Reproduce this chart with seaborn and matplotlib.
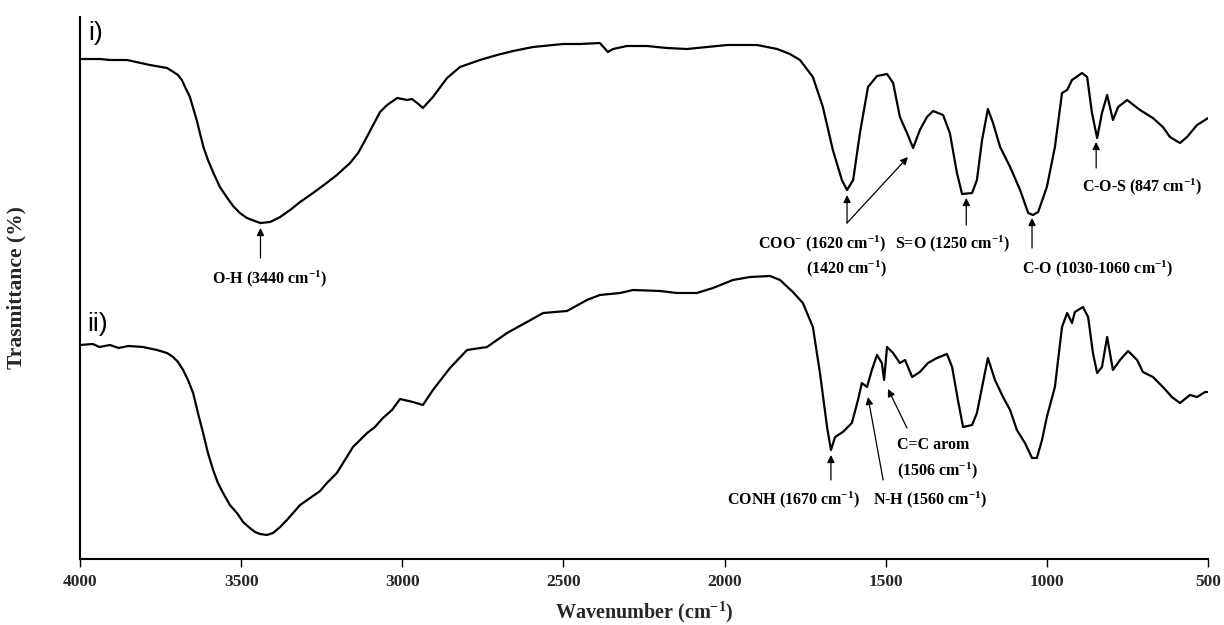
import matplotlib
matplotlib.use("Agg")
import matplotlib.pyplot as plt
import pandas as pd
import seaborn as sns

# Spectrum i): wavenumber (cm-1) and transmittance (a.u., stacked offset)
wn_i = [4000, 3938, 3907, 3854, 3783, 3730, 3710, 3696, 3684, 3674, 3659, 3649,
        3638, 3628, 3617, 3603, 3586, 3566, 3545, 3525, 3504, 3482, 3441, 3410,
        3379, 3348, 3317, 3277, 3235, 3203, 3162, 3137, 3110, 3069, 3047, 3016,
        2985, 2970, 2954, 2936, 2905, 2861, 2821, 2759, 2706, 2656, 2594, 2501,
        2449, 2387, 2362, 2346, 2303, 2241, 2179, 2117, 2054, 1992, 1899, 1837,
        1797, 1766, 1726, 1695, 1664, 1636, 1620, 1601, 1580, 1555, 1527, 1496,
        1477, 1456, 1434, 1415, 1394, 1372, 1353, 1322, 1301, 1279, 1263, 1232,
        1217, 1201, 1183, 1167, 1145, 1114, 1083, 1058, 1043, 1027, 1000, 975,
        953, 937, 922, 891, 875, 860, 844, 829, 813, 795, 779, 751, 711, 671,
        640, 618, 587, 565, 534, 509, 500]
tr_i = [500, 500, 499, 499, 494, 491, 487, 484, 479, 472, 462, 451,
        439, 426, 412, 399, 386, 372, 362, 353, 346, 341, 336, 337,
        342, 349, 357, 366, 376, 384, 396, 406, 422, 447, 454, 461,
        459, 460, 456, 451, 462, 481, 492, 499, 504, 508, 512, 515,
        515, 516, 507, 510, 513, 513, 511, 510, 512, 514, 514, 510,
        505, 499, 482, 452, 409, 379, 369, 379, 426, 472, 483, 485,
        476, 442, 426, 411, 429, 442, 448, 444, 426, 386, 365, 366,
        379, 419, 450, 436, 412, 392, 369, 346, 344, 347, 372, 412,
        466, 469, 479, 486, 482, 446, 421, 446, 464, 439, 452, 459, 449, 441,
        432, 422, 416, 422, 434, 439, 441]

# Spectrum ii)
wn_ii = [4000, 3960, 3940, 3907, 3880, 3850, 3805, 3761, 3730, 3711, 3696, 3680,
         3665, 3649, 3634, 3618, 3603, 3587, 3572, 3556, 3535, 3513, 3494, 3473,
         3457, 3441, 3420, 3401, 3379, 3358, 3339, 3317, 3286, 3255, 3234, 3203,
         3178, 3153, 3131, 3109, 3085, 3060, 3032, 3007, 2967, 2936, 2905, 2852,
         2799, 2737, 2675, 2613, 2563, 2489, 2427, 2387, 2324, 2284, 2200, 2148,
         2086, 2036, 1974, 1921, 1859, 1828, 1788, 1757, 1726, 1704, 1682, 1670,
         1657, 1633, 1605, 1586, 1574, 1558, 1543, 1527, 1512, 1505, 1496, 1477,
         1456, 1440, 1418, 1394, 1369, 1341, 1310, 1294, 1276, 1260, 1232, 1217,
         1201, 1183, 1161, 1136, 1114, 1093, 1068, 1046, 1031, 1015, 1000, 975,
         953, 937, 922, 913, 888, 872, 857, 844, 829, 813, 795, 773, 748, 720,
         702, 671, 640, 612, 587, 556, 534, 509, 500]
tr_ii = [214, 215, 212, 214, 211, 213, 212, 209, 206, 202, 197, 189,
         179, 166, 146, 126, 106, 89, 76, 66, 54, 46, 37, 31,
         27, 25, 24, 26, 32, 39, 46, 54, 61, 68, 76, 86,
         99, 112, 119, 126, 132, 141, 149, 160, 157, 154, 169, 191,
         209, 212, 226, 237, 246, 248, 259, 264, 266, 269, 268, 266,
         266, 271, 279, 282, 283, 279, 267, 256, 232, 186, 132, 109,
         122, 127, 136, 159, 176, 172, 189, 204, 196, 179, 212, 206,
         196, 199, 182, 187, 196, 201, 205, 192, 159, 132, 134, 146,
         172, 201, 179, 162, 149, 129, 116, 101, 101, 119, 142, 172,
         232, 246, 236, 247, 252, 242, 206, 186, 192, 222, 189, 199, 208, 199,
         187, 182, 172, 162, 156, 164, 162, 167, 167]

x_ticks = [4000, 3500, 3000, 2500, 2000, 1500, 1000, 500]

# Band labels: text, left x (cm-1), baseline y
band_text = [r"O-H (3440 cm$^{-1}$)",
             r"COO$^{-}$ (1620 cm$^{-1}$)",
             r"(1420 cm$^{-1}$)",
             r"S=O (1250 cm$^{-1}$)",
             r"C-O (1030-1060 cm$^{-1}$)",
             r"C-O-S (847 cm$^{-1}$)",
             r"CONH (1670 cm$^{-1}$)",
             r"N-H (1560 cm$^{-1}$)",
             "C=C arom",
             r"(1506 cm$^{-1}$)"]
band_x = [3590, 1896, 1747, 1471, 1077, 891, 1992, 1540, 1465, 1465]
band_y = [276, 311, 286, 311, 286, 368, 55, 55, 110, 84]

# Arrows: tail (x, y) -> head (x, y)
arrow_tail_x = [3440, 1620, 1620, 1250, 1046, 847, 1670, 1508, 1434]
arrow_tail_y = [301, 336, 336, 334, 311, 391, 79, 79, 131]
arrow_head_x = [3440, 1620, 1431, 1250, 1046, 847, 1670, 1555, 1493]
arrow_head_y = [331, 364, 402, 361, 341, 417, 104, 162, 170]

# Panel tags
tag_text = ["i)", "ii)"]
tag_x = [3975, 3979]
tag_y = [519, 228]

sns.set_theme(style="white")
plt.rcParams["font.family"] = ["Liberation Serif", "DejaVu Serif"]
plt.rcParams["mathtext.fontset"] = "custom"
plt.rcParams["mathtext.rm"] = "Liberation Serif:bold"
plt.rcParams["mathtext.it"] = "Liberation Serif:bold"
plt.rcParams["mathtext.bf"] = "Liberation Serif:bold"
plt.rcParams["mathtext.default"] = "rm"

df_i = pd.DataFrame({"wavenumber": wn_i, "transmittance": tr_i})
df_ii = pd.DataFrame({"wavenumber": wn_ii, "transmittance": tr_ii})

fig = plt.figure(figsize=(12.24, 6.25), dpi=100)
ax = fig.add_axes([80 / 1224, 66 / 625, 1128 / 1224, 542 / 625])

line_kw = dict(color="black", lw=1.6, estimator=None, sort=True)
sns.lineplot(data=df_i, x="wavenumber", y="transmittance", ax=ax, **line_kw)
sns.lineplot(data=df_ii, x="wavenumber", y="transmittance", ax=ax, **line_kw)
for ln in ax.get_lines():
    ln.set_solid_joinstyle("round")

ax.set_xlim(4000, 500)
ax.set_ylim(0, 542)
ax.set_xticks(x_ticks)
ax.set_xticklabels([str(t) for t in x_ticks], fontsize=12.5, fontweight="bold",
                   family="Liberation Serif")
ax.set_yticks([])
ax.tick_params(axis="x", direction="out", length=6, width=1.0, color="black",
               pad=5, bottom=True)

sns.despine(ax=ax, top=True, right=True)
for side in ("left", "bottom"):
    ax.spines[side].set_color("black")
    ax.spines[side].set_linewidth(1.5)

ax.set_xlabel(r"Wavenumber (cm$^{-1}$)", fontsize=14.5, fontweight="bold",
              family="Liberation Serif")
ax.set_ylabel("Trasmittance (%)", fontsize=15.5, fontweight="bold",
              family="Liberation Serif")
ax.xaxis.set_label_coords(0.5, -0.075)
ax.yaxis.set_label_coords(-0.047, 0.5)

for txt, x, y in zip(band_text, band_x, band_y):
    ax.text(x, y, txt, fontsize=11.5, fontweight="bold", family="Liberation Serif",
            ha="left", va="baseline", color="black")

for x0, y0, x1, y1 in zip(arrow_tail_x, arrow_tail_y, arrow_head_x, arrow_head_y):
    ax.annotate("", xy=(x1, y1), xytext=(x0, y0),
                arrowprops=dict(arrowstyle="-|>", color="black", lw=0.9,
                                mutation_scale=11, shrinkA=0, shrinkB=0))

for txt, x, y in zip(tag_text, tag_x, tag_y):
    ax.text(x, y, txt, fontsize=19, family="Liberation Sans",
            ha="left", va="baseline", color="black")

fig.savefig("out.png", dpi=100, facecolor="white")
